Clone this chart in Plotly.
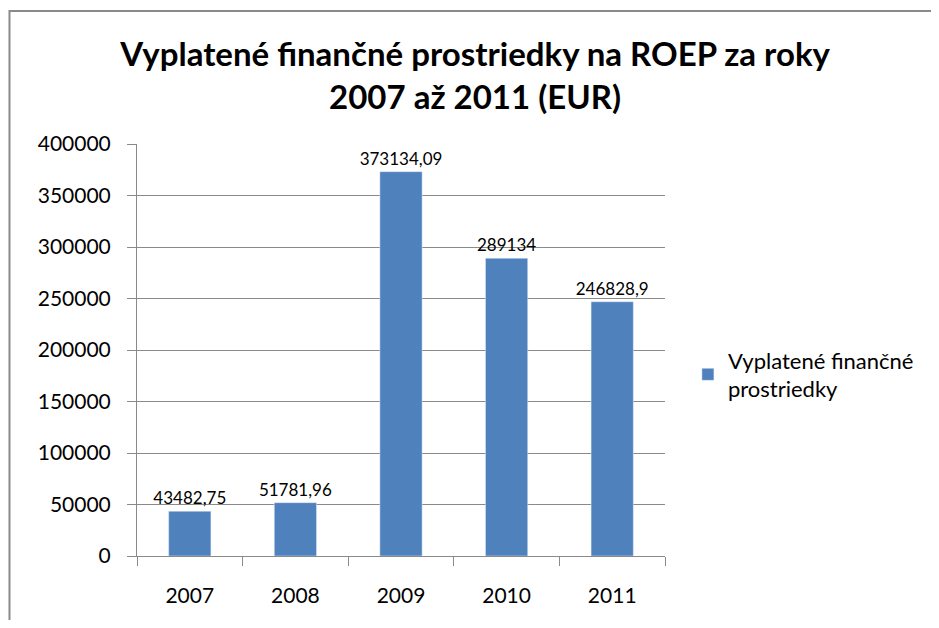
import plotly.graph_objects as go

years = ['2007', '2008', '2009', '2010', '2011']
values = [43482.75, 51781.96, 373134.09, 289134, 246828.9]
series_name = 'Vyplatené finančné<br>prostriedky'

labels = [str(v).replace('.', ',') for v in values]

# page body has an 8px margin, so figure coordinates are offset by 8
W, H = 923, 612
L, T = 129, 136
pw, ph = 530, 412
R, B = W - L - pw, H - T - ph

fig = go.Figure()
fig.add_trace(go.Bar(
    x=years,
    y=values,
    name=series_name,
    marker_color='#4F81BD',
    text=labels,
    textposition='outside',
    constraintext='none',
    textfont=dict(size=17, color='#000000'),
    cliponaxis=False,
))

# outer chart frame (left and top edges visible)
fig.add_shape(
    type='rect', xref='paper', yref='paper',
    x0=(1 - L) / pw, x1=1.8, y0=-0.5, y1=(T + ph - 3) / ph,
    line=dict(color='#8a8a8a', width=2), fillcolor='rgba(0,0,0,0)', layer='below'
)

fig.update_layout(
    width=W, height=H,
    margin=dict(l=L, r=R, t=T, b=B),
    paper_bgcolor='white', plot_bgcolor='white',
    font=dict(family='Lato, sans-serif', size=21, color='#000000'),
    title=dict(
        text='<b>Vyplatené finančné prostriedky na ROEP za roky<br>2007 až 2011 (EUR)</b>',
        x=0.506, xanchor='center', y=1 - 58 / H, yanchor='top',
        font=dict(size=33, color='#000000'),
    ),
    bargap=0.6,
    showlegend=True,
    legend=dict(
        x=(682 - L) / pw, xanchor='left', y=0.44, yanchor='middle',
        font=dict(size=22), bgcolor='rgba(0,0,0,0)',
    ),
)
fig.update_xaxes(
    type='category', showline=True, linecolor='#8a8a8a', linewidth=1,
    ticks='outside', tickson='boundaries', ticklen=9, tickcolor='#8a8a8a',
    showgrid=False, tickfont=dict(size=21), ticklabelstandoff=21,
)
fig.update_yaxes(
    range=[0, 400000], dtick=50000, tickformat='d',
    showline=True, linecolor='#8a8a8a', linewidth=1,
    ticks='outside', ticklen=9, tickcolor='#8a8a8a',
    showgrid=True, gridcolor='#8a8a8a', gridwidth=1,
    zeroline=False, tickfont=dict(size=21), ticklabelstandoff=12,
)

fig.write_html('out.html')
